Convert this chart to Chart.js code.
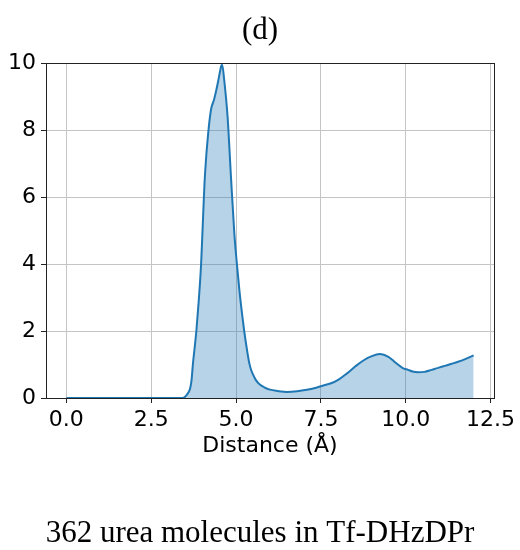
<!DOCTYPE html>
<html>
<head>
<meta charset="utf-8">
<script src="https://cdn.jsdelivr.net/npm/chart.js@4/dist/chart.umd.min.js"></script>
<style>html, body { margin: 0; padding: 0; background: #fff; }</style>
</head>
<body>
<canvas id="chart" width="520" height="550"></canvas>
<script>
// distance (Å) and g(r)
const distance = [0, 1, 2, 3, 3.43, 3.53, 3.6, 3.65, 3.69, 3.73, 3.78, 3.83, 3.9, 3.97, 4.02, 4.07, 4.12, 4.17,
  4.22, 4.27, 4.35, 4.42, 4.5, 4.56, 4.59, 4.65, 4.75, 4.85, 4.95, 5.02, 5.1, 5.19, 5.24, 5.32, 5.39,
  5.45, 5.5, 5.58, 5.7, 5.83, 6.0, 6.22, 6.5, 6.8, 7.05, 7.3, 7.53, 7.8, 8.02, 8.25, 8.51, 8.75, 9.0, 9.24,
  9.49, 9.65, 9.78, 9.9, 10.07, 10.2, 10.37, 10.55, 10.76, 10.95, 11.15, 11.35, 11.54, 11.75, 12.0];
const rdf = [0, 0, 0, 0, 0, 0.07, 0.17, 0.3, 0.55, 1.03, 1.5, 2.0, 2.9, 4.0, 5.2, 6.4, 7.2, 7.8,
  8.3, 8.65, 8.9, 9.2, 9.6, 9.9, 9.95, 9.5, 8.4, 6.6, 4.9, 4.05, 3.2, 2.4, 2.0, 1.45, 1.04,
  0.82, 0.7, 0.54, 0.4, 0.32, 0.25, 0.21, 0.18, 0.2, 0.24, 0.29, 0.36, 0.44, 0.55, 0.72, 0.94, 1.12, 1.25, 1.31,
  1.23, 1.1, 0.99, 0.9, 0.84, 0.79, 0.77, 0.78, 0.84, 0.9, 0.96, 1.02, 1.08, 1.16, 1.27];
const xTicks = [0, 2.5, 5, 7.5, 10, 12.5];
const yTicks = [0, 2, 4, 6, 8, 10];

const tickFont = { family: "DejaVu Sans", size: 22 };
const serif = "Liberation Serif";

// matplotlib-like box around the axes
const spines = {
  id: "spines",
  afterDatasetsDraw(chart) {
    const { ctx, chartArea: a } = chart;
    ctx.save();
    ctx.strokeStyle = "#222";
    ctx.lineWidth = 1;
    ctx.strokeRect(Math.round(a.left) + 0.5, Math.round(a.top) + 0.5,
      Math.round(a.right - a.left), Math.round(a.bottom - a.top));
    ctx.restore();
  },
};

new Chart(document.getElementById("chart"), {
  type: "line",
  data: {
    datasets: [{
      data: distance.map((x, i) => ({ x, y: rdf[i] })),
      borderColor: "#1f77b4",
      borderWidth: 2,
      backgroundColor: "rgba(31,119,180,0.32)",
      fill: "origin",
      pointRadius: 0,
      cubicInterpolationMode: "monotone",
    }],
  },
  options: {
    responsive: false,
    animation: false,
    devicePixelRatio: 1,
    layout: { padding: 0 },
    plugins: {
      legend: { display: false },
      tooltip: { enabled: false },
      title: {
        display: true, text: "(d)", color: "#000",
        font: { family: serif, size: 31, weight: "normal", lineHeight: 1.2 },
        padding: { top: 12, bottom: 13.8 },
      },
      subtitle: {
        display: true, position: "bottom", text: "362 urea molecules in Tf-DHzDPr", color: "#000",
        font: { family: serif, size: 31, weight: "normal", lineHeight: 1 },
        padding: { top: 20, bottom: 0.5 },
      },
    },
    scales: {
      x: {
        type: "linear", min: -0.6, max: 12.6,
        afterBuildTicks: s => { s.ticks = xTicks.map(value => ({ value })); },
        afterFit: s => { s.height = 100.5; },
        ticks: { color: "#000", font: tickFont, padding: 4, maxRotation: 0,
          callback: v => v.toFixed(1) },
        grid: { color: "#c4c4c4", tickColor: "#222", tickLength: 5 },
        border: { display: false },
        title: { display: true, text: "Distance (Å)", color: "#000", font: tickFont,
          padding: { top: 4, bottom: 39.5 } },
      },
      y: {
        type: "linear", min: 0, max: 10,
        afterBuildTicks: s => { s.ticks = yTicks.map(value => ({ value })); },
        afterFit: s => { s.width = 46; },
        ticks: { color: "#000", font: tickFont, padding: 5 },
        grid: { color: "#c4c4c4", tickColor: "#222", tickLength: 5 },
        border: { display: false },
      },
      yr: {
        type: "linear", position: "right", display: true,
        afterFit: s => { s.width = 26; },
        ticks: { display: false },
        grid: { display: false },
        border: { display: false },
      },
    },
  },
  plugins: [spines],
});
</script>
</body>
</html>
